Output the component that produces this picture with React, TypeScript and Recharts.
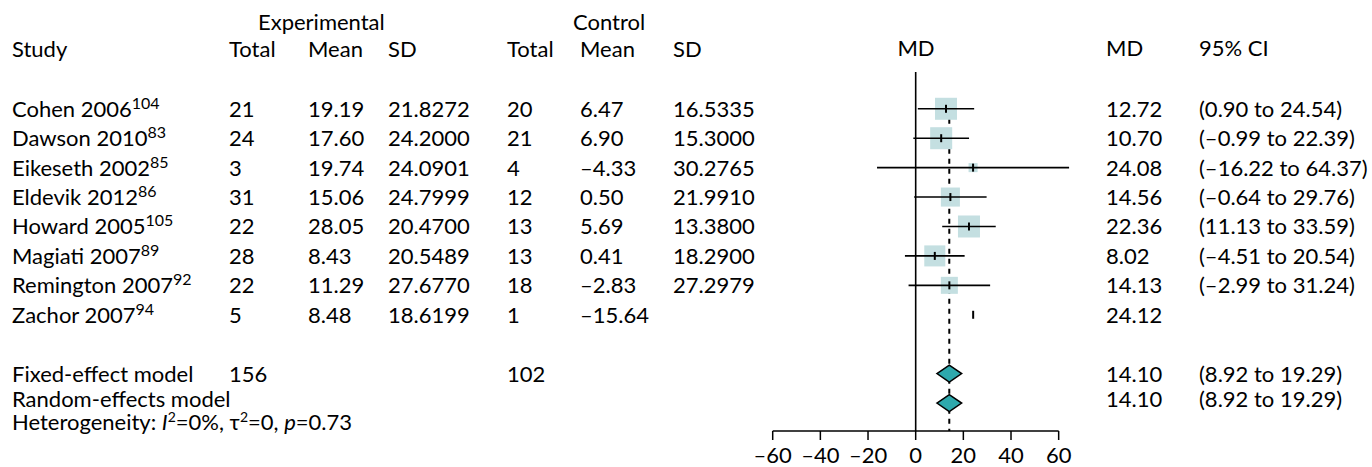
import { ScatterChart, Scatter, XAxis, YAxis, ReferenceLine, Customized } from "recharts";

const studies = ["Cohen 2006", "Dawson 2010", "Eikeseth 2002", "Eldevik 2012", "Howard 2005", "Magiati 2007", "Remington 2007", "Zachor 2007"];
const refs = ["104", "83", "85", "86", "105", "89", "92", "94"];
const expTotal = [21, 24, 3, 31, 22, 28, 22, 5];
const expMean = ["19.19", "17.60", "19.74", "15.06", "28.05", "8.43", "11.29", "8.48"];
const expSD = ["21.8272", "24.2000", "24.0901", "24.7999", "20.4700", "20.5489", "27.6770", "18.6199"];
const ctlTotal = [20, 21, 4, 12, 13, 13, 18, 1];
const ctlMean = ["6.47", "6.90", "–4.33", "0.50", "5.69", "0.41", "–2.83", "–15.64"];
const ctlSD = ["16.5335", "15.3000", "30.2765", "21.9910", "13.3800", "18.2900", "27.2979", ""];
const md = [12.72, 10.7, 24.08, 14.56, 22.36, 8.02, 14.13, 24.12];
const ciLo: (number | null)[] = [0.9, -0.99, -16.22, -0.64, 11.13, -4.51, -2.99, null];
const ciHi: (number | null)[] = [24.54, 22.39, 64.37, 29.76, 33.59, 20.54, 31.24, null];
const weights = [18.4, 18.4, 3.1, 13.8, 18.4, 16.8, 11.0, 0];

const pooledLabels = ["Fixed-effect model", "Random-effects model"];
const pooledMD = [14.1, 14.1];
const pooledLo = [8.92, 8.92];
const pooledHi = [19.29, 19.29];
const pooledExpN = 156;
const pooledCtlN = 102;

const xTicks = [-60, -40, -20, 0, 20, 40, 60];

const FONT = "Lato, 'Noto Sans', sans-serif";
const FS = 22;
const BOX = "#c4dfe1";
const DIAMOND = "#2ea9ad";
const Y_TOP = -1.25;
const Y_BOTTOM = 10.95;
const COL = { study: 12, eTotal: 229, eMean: 308, eSD: 388, cTotal: 507, cMean: 580, cSD: 673, md: 1106, ci: 1199 };

const num = (v: number) => (v < 0 ? "–" + Math.abs(v).toFixed(2) : v.toFixed(2));
const ciText = (lo: number | null, hi: number | null) => (lo == null || hi == null ? "" : `(${num(lo)} to ${num(hi)})`);
const boxSize = (w: number) => (w > 0 ? 22 * Math.sqrt(w / 18.4) : 0);

const tableRows = [
  ...studies.map((s, i) => ({
    x: 0, y: i, label: s, ref: refs[i],
    eTotal: String(expTotal[i]), eMean: expMean[i], eSD: expSD[i],
    cTotal: String(ctlTotal[i]), cMean: ctlMean[i], cSD: ctlSD[i],
    md: num(md[i]), ci: ciText(ciLo[i], ciHi[i]), nudge: 0,
  })),
  ...pooledLabels.map((s, k) => ({
    x: 0, y: 9 + k, label: s, ref: "",
    eTotal: k === 0 ? String(pooledExpN) : "", eMean: "", eSD: "",
    cTotal: k === 0 ? String(pooledCtlN) : "", cMean: "", cSD: "",
    md: num(pooledMD[k]), ci: ciText(pooledLo[k], pooledHi[k]), nudge: k === 1 ? -4.5 : 0,
  })),
];

const Empty = () => <g />;

const TableRow = (props: any) => {
  const { cy, payload } = props;
  const y = cy + 8 + payload.nudge;
  return (
    <g fontFamily={FONT} fontSize={FS} fill="#000">
      <text x={COL.study} y={y}>
        {payload.label}
        {payload.ref ? <tspan fontSize={16} dy={-8}>{payload.ref}</tspan> : null}
      </text>
      <text x={COL.eTotal} y={y}>{payload.eTotal}</text>
      <text x={COL.eMean} y={y}>{payload.eMean}</text>
      <text x={COL.eSD} y={y}>{payload.eSD}</text>
      <text x={COL.cTotal} y={y}>{payload.cTotal}</text>
      <text x={COL.cMean} y={y}>{payload.cMean}</text>
      <text x={COL.cSD} y={y}>{payload.cSD}</text>
      <text x={COL.md} y={y}>{payload.md}</text>
      <text x={COL.ci} y={y}>{payload.ci}</text>
    </g>
  );
};

const studyMark = (w: number) => (p: any) => {
  const pts = p.points as { x: number; y: number }[];
  const mid = pts.length === 3 ? pts[1] : pts[0];
  const s = boxSize(w);
  return (
    <g>
      {s > 0 && <rect x={mid.x - s / 2} y={mid.y - s / 2} width={s} height={s} fill={BOX} />}
      {pts.length === 3 && <line x1={pts[0].x} x2={pts[2].x} y1={mid.y} y2={mid.y} stroke="#000" strokeWidth={1.6} />}
      <line x1={mid.x} x2={mid.x} y1={mid.y - 4} y2={mid.y + 4} stroke="#000" strokeWidth={2} />
    </g>
  );
};

const diamond = (p: any) => {
  const [l, c, r] = p.points as { x: number; y: number }[];
  const h = 8.5;
  return (
    <polygon
      points={`${l.x},${l.y} ${c.x},${c.y - h} ${r.x},${r.y} ${c.x},${c.y + h}`}
      fill={DIAMOND}
      stroke="#000"
      strokeWidth={1.5}
    />
  );
};

const dashed = (p: any) => {
  const pts = p.points as { x: number; y: number }[];
  return <line x1={pts[0].x} x2={pts[1].x} y1={pts[0].y} y2={pts[1].y} stroke="#000" strokeWidth={2} strokeDasharray="5 5" />;
};

const Headers = () => (
  <g fontFamily={FONT} fontSize={FS} fill="#000">
    <text x={258} y={29.5}>Experimental</text>
    <text x={573} y={29.5}>Control</text>
    <text x={COL.study} y={57}>Study</text>
    <text x={COL.eTotal} y={57}>Total</text>
    <text x={COL.eMean} y={57}>Mean</text>
    <text x={COL.eSD} y={57}>SD</text>
    <text x={COL.cTotal} y={57}>Total</text>
    <text x={COL.cMean} y={57}>Mean</text>
    <text x={COL.cSD} y={57}>SD</text>
    <text x={916} y={56} textAnchor="middle">MD</text>
    <text x={COL.md} y={56}>MD</text>
    <text x={COL.ci} y={56}>95% CI</text>
    <text x={COL.study} y={430}>
      Heterogeneity: <tspan fontStyle="italic">I</tspan>
      <tspan fontSize={14} dy={-8}>2</tspan>
      <tspan dy={8}>{"=0%, τ"}</tspan>
      <tspan fontSize={14} dy={-8}>2</tspan>
      <tspan dy={8}>{"=0, "}</tspan>
      <tspan fontStyle="italic">p</tspan>
      <tspan>{"=0.73"}</tspan>
    </text>
  </g>
);

export default function App() {
  return (
    <div style={{ position: "absolute", left: 0, top: 0, background: "#fff" }}>
      <ScatterChart width={1372} height={467} margin={{ top: 72, right: 289.5, bottom: 0, left: 772.7 }}>
        <XAxis
          type="number"
          dataKey="x"
          domain={[-60, 70]}
          ticks={xTicks}
          interval={0}
          axisLine={false}
          stroke="#000"
          tickLine={{ stroke: "#000", strokeWidth: 1.5 }}
          tickSize={9}
          tickMargin={7}
          height={36}
          tick={{ fill: "#000", fontSize: FS, fontFamily: FONT }}
          tickFormatter={(v: number) => (v < 0 ? "–" + Math.abs(v) : String(v))}
        />
        <YAxis type="number" dataKey="y" domain={[Y_TOP, Y_BOTTOM]} reversed hide />
        <ReferenceLine x={0} stroke="#000" strokeWidth={1.6} />
        <ReferenceLine segment={[{ x: -60, y: Y_BOTTOM }, { x: 60, y: Y_BOTTOM }]} stroke="#000" strokeWidth={1.6} />
        <Customized component={Headers} />
        <Scatter data={tableRows} shape={TableRow} isAnimationActive={false} legendType="none" />
        <Scatter
          data={[{ x: pooledMD[0], y: 0 }, { x: pooledMD[0], y: Y_BOTTOM }]}
          shape={Empty}
          line={dashed}
          isAnimationActive={false}
          legendType="none"
        />
        {studies.map((s, i) => (
          <Scatter
            key={s}
            data={
              ciLo[i] == null
                ? [{ x: md[i], y: i }]
                : [{ x: ciLo[i], y: i }, { x: md[i], y: i }, { x: ciHi[i], y: i }]
            }
            shape={Empty}
            line={studyMark(weights[i])}
            isAnimationActive={false}
            legendType="none"
          />
        ))}
        {pooledLabels.map((s, k) => (
          <Scatter
            key={s}
            data={[{ x: pooledLo[k], y: 9 + k }, { x: pooledMD[k], y: 9 + k }, { x: pooledHi[k], y: 9 + k }]}
            shape={Empty}
            line={diamond}
            isAnimationActive={false}
            legendType="none"
          />
        ))}
      </ScatterChart>
    </div>
  );
}
